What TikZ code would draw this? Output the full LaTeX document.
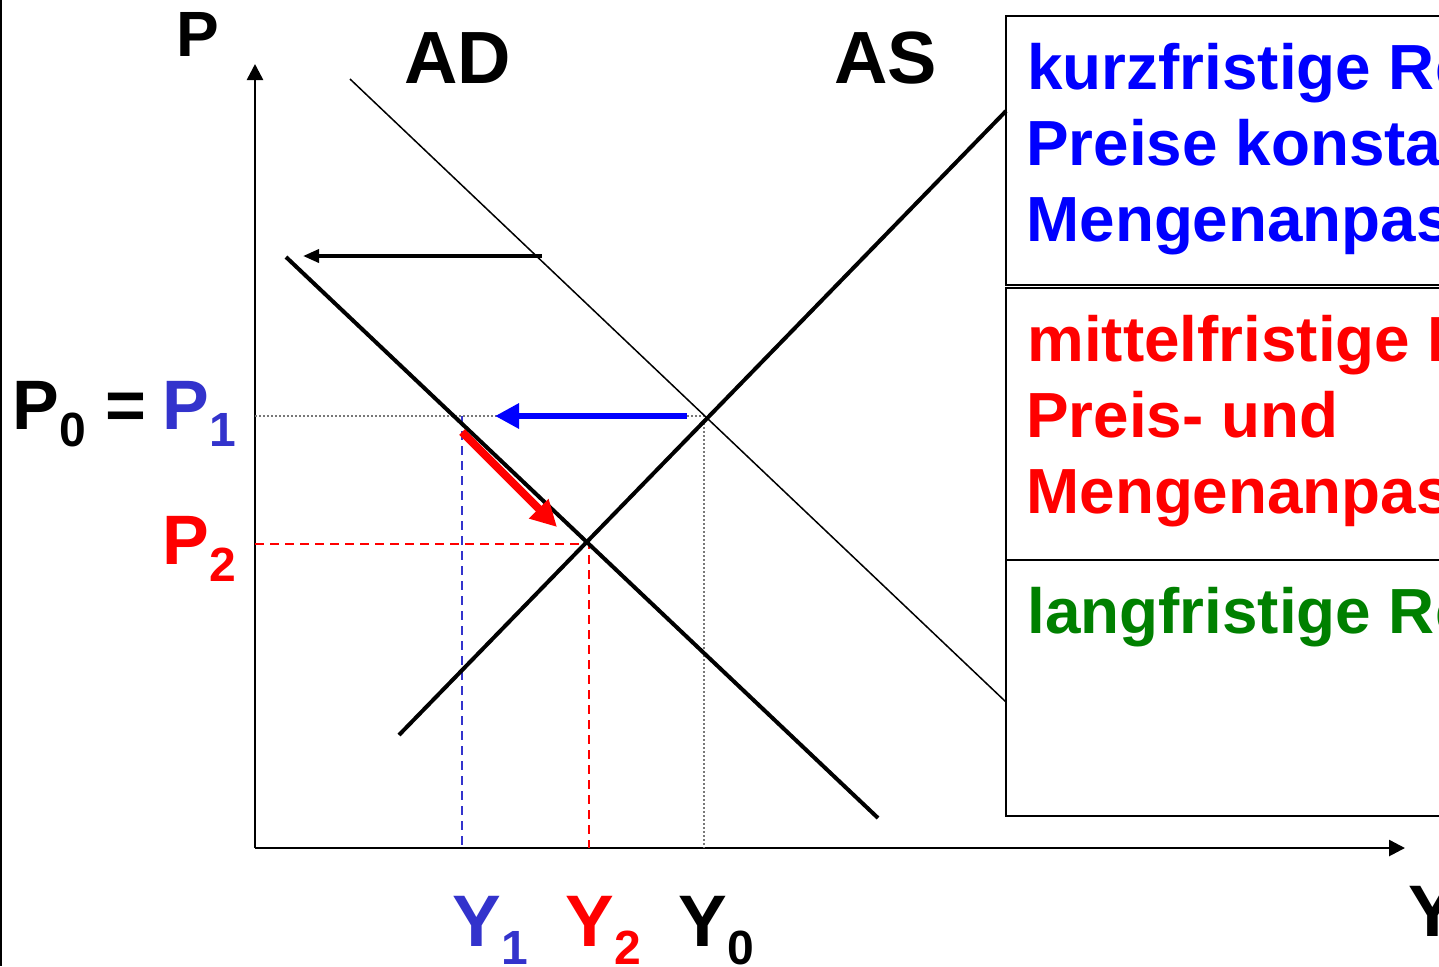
\documentclass[tikz,border=0pt]{standalone}
\usepackage{fontspec}
\setmainfont{Liberation Sans}
\usetikzlibrary{arrows.meta}
\definecolor{pblue}{RGB}{51,51,204}
\definecolor{lgreen}{RGB}{0,128,0}
\definecolor{dotgray}{RGB}{120,120,120}
\newcommand{\mysubsz}{\fontsize{24}{24}\selectfont}
\newcommand{\lowsub}[1]{\raisebox{-8.5pt}{\mysubsz #1}}
\newcommand{\lowsuby}[1]{\raisebox{-9pt}{\mysubsz #1}}
\begin{document}
\begin{tikzpicture}[x=0.5pt,y=-0.5pt,
  plbl/.style={inner sep=0pt, anchor=base west, font=\fontsize{35}{35}\selectfont\bfseries},
  ylbl/.style={inner sep=0pt, anchor=base west, font=\fontsize{36.5}{36.5}\selectfont\bfseries},
  curvelbl/.style={inner sep=0pt, anchor=base west, font=\fontsize{37}{37}\selectfont\bfseries},
  boxtext/.style={inner sep=0pt, anchor=base west, font=\fontsize{31.9}{38}\selectfont\bfseries},
  boxframe/.style={line width=1.2pt},
  thincurve/.style={line width=0.75pt},
  thickcurve/.style={line width=2pt},
  axisline/.style={line width=1.3pt, -{Triangle[length=8pt,width=8pt]}},
  guide/.style={dotgray, line width=0.75pt, dash pattern=on 1pt off 1pt},
  bluedash/.style={pblue, line width=1.1pt, dash pattern=on 4.5pt off 3pt},
  reddash/.style={red, line width=1.1pt, dash pattern=on 4.5pt off 3pt},
  shiftarrow/.style={line width=1.8pt, -{Triangle[length=8pt,width=6.5pt]}},
  bluearrow/.style={blue, line width=3.2pt, -{Triangle[length=12pt,width=12pt]}},
  redarrow/.style={red, line width=4pt, -{Triangle[length=13pt,width=13pt]}}
]
\useasboundingbox (0,0) rectangle (1439,966);
\clip (0,0) rectangle (1439,966);
\fill[white] (0,0) rectangle (1439,966);

% left border
\coordinate (LBtop) at (1,0);
\coordinate (LBbot) at (1,966);
\draw[line width=1pt] (LBtop) -- (LBbot);

% axes
\coordinate (O) at (255,848);
\coordinate (Ptip) at (255,64);
\coordinate (Ytip) at (1405,848);
\draw[axisline] (O) -- (Ptip);
\draw[axisline] (O) -- (Ytip);

% key points
\coordinate (E0) at (704,416);
\coordinate (E1) at (462,416);
\coordinate (E2) at (589,544);
\coordinate (P1ax) at (255,416);
\coordinate (P2ax) at (255,544);
\coordinate (Y0ax) at (704,848);
\coordinate (Y1ax) at (462,848);
\coordinate (Y2ax) at (589,848);

% guides
\draw[guide] (P1ax) -- (E0) -- (Y0ax);
\draw[bluedash] (E1) -- (Y1ax);
\draw[reddash] (P2ax) -- (E2) -- (Y2ax);

% curves
\coordinate (ADa) at (350,79);
\coordinate (ADb) at (1006,702);
\coordinate (ADna) at (286,257);
\coordinate (ADnb) at (878,818);
\coordinate (ASa) at (399,735);
\coordinate (ASb) at (1006,111);
\draw[thincurve] (ADa) -- (ADb);
\draw[thickcurve] (ADna) -- (ADnb);
\draw[thickcurve] (ASa) -- (ASb);

% arrows
\coordinate (S1) at (542,256);
\coordinate (S2) at (303,256);
\draw[shiftarrow] (S1) -- (S2);
\coordinate (B1) at (687,416);
\coordinate (B2) at (495,416);
\draw[bluearrow] (B1) -- (B2);
\coordinate (R1) at (462,432);
\coordinate (R2) at (557,527);
\draw[redarrow] (R1) -- (R2);

% boxes
\coordinate (K1) at (1006,16);
\coordinate (K2) at (1480,285);
\coordinate (M1) at (1006,288);
\coordinate (M2) at (1480,560);
\coordinate (L1) at (1006,560);
\coordinate (L2) at (1480,816);
\draw[boxframe] (K1) rectangle (K2);
\draw[boxframe] (M1) rectangle (M2);
\draw[boxframe] (L1) rectangle (L2);

\node[boxtext, blue] (k1) at (1027,89) {kurzfristige Reaktion:};
\node[boxtext, blue] (k2) at (1026,165) {Preise konstant,};
\node[boxtext, blue] (k3) at (1026,241) {Mengenanpassung};
\node[boxtext, red] (m1) at (1027,361) {mittelfristige Reaktion:};
\node[boxtext, red] (m2) at (1026,437) {Preis- und};
\node[boxtext, red] (m3) at (1026,513) {Mengenanpassung};
\node[boxtext, lgreen] (l1) at (1027,633) {langfristige Reaktion:};

% labels
\node[inner sep=0pt, anchor=base west, font=\fontsize{32}{32}\selectfont\bfseries] (Plab) at (176,56) {P};
\node[curvelbl] (ADlab) at (404,83) {AD};
\node[curvelbl] (ASlab) at (834,83) {AS};
\node[plbl] (P0lab) at (12,429) {P\lowsub{0} =};
\node[plbl, pblue] (P1lab) at (162,429) {P\lowsub{1}};
\node[plbl, red] (P2lab) at (162,564) {P\lowsub{2}};
\node[ylbl, pblue] (Y1lab) at (452,946) {Y\lowsuby{1}};
\node[ylbl, red] (Y2lab) at (565,946) {Y\lowsuby{2}};
\node[ylbl] (Y0lab) at (678,946) {Y\lowsuby{0}};
\node[ylbl] (Ylab) at (1408,936) {Y};
\end{tikzpicture}
\end{document}
